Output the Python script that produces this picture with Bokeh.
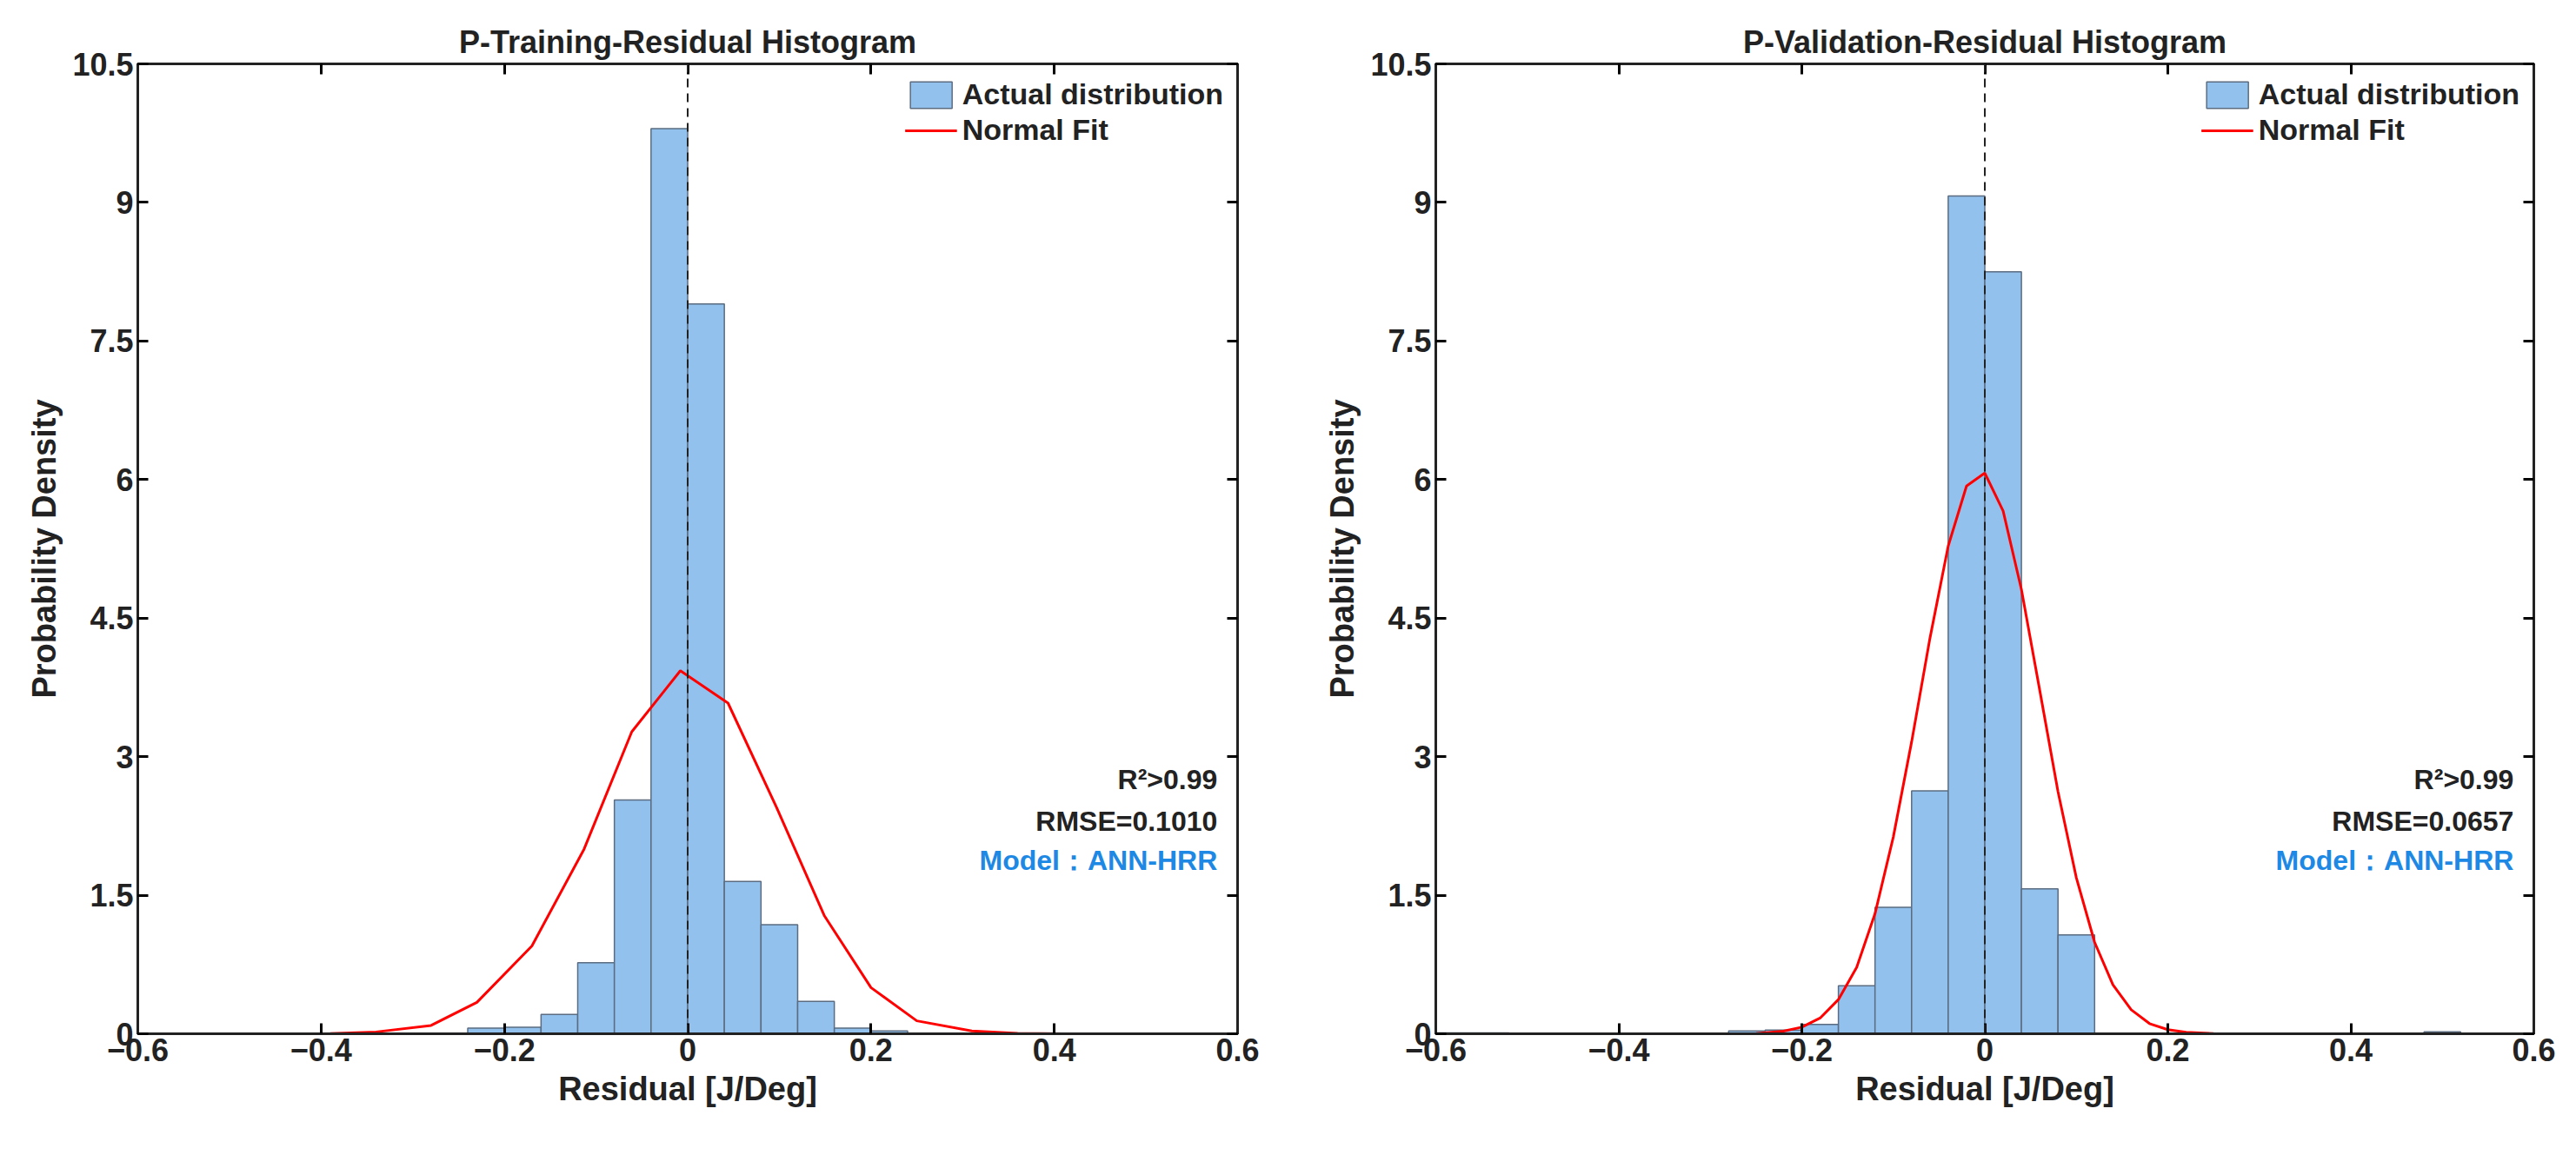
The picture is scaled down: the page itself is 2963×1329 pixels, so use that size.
from bokeh.plotting import figure
from bokeh.layouts import row
from bokeh.models import LinearAxis, FixedTicker, Span, Legend, LegendItem, Label
from bokeh.embed import file_html
from bokeh.resources import INLINE

# ---- data ----
bin_edges = [-0.24, -0.20, -0.16, -0.12, -0.08, -0.04, 0.0, 0.04, 0.08, 0.12, 0.16, 0.20, 0.24]
train_density = [0.06, 0.07, 0.21, 0.77, 2.53, 9.80, 7.90, 1.65, 1.18, 0.35, 0.06, 0.03]
train_fit_x = [-0.44, -0.39, -0.34, -0.28, -0.23, -0.17, -0.113, -0.061, -0.008, 0.044, 0.097, 0.149, 0.20, 0.25, 0.31, 0.36, 0.41]
train_fit_y = [0.0, 0.003, 0.02, 0.09, 0.34, 0.95, 2.0, 3.27, 3.93, 3.58, 2.45, 1.28, 0.50, 0.14, 0.03, 0.005, 0.0]

val_edges = [-0.60, -0.52, -0.28, -0.24, -0.20, -0.16, -0.12, -0.08, -0.04, 0.0, 0.04, 0.08, 0.12, 0.48, 0.52]
val_density = [0.01, 0.0, 0.03, 0.04, 0.10, 0.52, 1.37, 2.63, 9.07, 8.25, 1.57, 1.07, 0.0, 0.02]
val_fit_x = [-0.60, -0.30, -0.25, -0.22, -0.20, -0.18, -0.16, -0.14, -0.12, -0.10, -0.08, -0.06, -0.04, -0.02,
             0.0, 0.02, 0.04, 0.06, 0.08, 0.10, 0.12, 0.14, 0.16, 0.18, 0.20, 0.22, 0.25, 0.30, 0.60]
val_fit_y = [0.0, 0.0003, 0.003, 0.028, 0.072, 0.17, 0.37, 0.72, 1.30, 2.13, 3.16, 4.28, 5.28, 5.93,
             6.07, 5.66, 4.81, 3.72, 2.62, 1.69, 0.99, 0.53, 0.26, 0.11, 0.045, 0.017, 0.003, 0.0, 0.0]

x_ticks = [-0.6, -0.4, -0.2, 0, 0.2, 0.4, 0.6]
y_ticks = [0, 1.5, 3, 4.5, 6, 7.5, 9, 10.5]
x_labels = {-0.6: "\u22120.6", -0.4: "\u22120.4", -0.2: "\u22120.2", 0: "0", 0.2: "0.2", 0.4: "0.4", 0.6: "0.6"}
y_labels = {0: "0", 1.5: "1.5", 3: "3", 4.5: "4.5", 6: "6", 7.5: "7.5", 9: "9", 10.5: "10.5"}

FONT = "Liberation Sans"
BAR = "#93c1ee"
BAR_LINE = "#5b6c80"


def make(title, edges, dens, fx, fy, rmse, width, bl, br):
    p = figure(width=width, height=1306, x_range=(-0.6, 0.6), y_range=(0, 10.5),
               output_backend="svg", toolbar_location=None,
               min_border_left=bl, min_border_right=br, min_border_top=73, min_border_bottom=117)
    p.title.text = title
    p.title.align = "center"
    p.title.text_font = FONT
    p.title.text_font_size = "36px"
    p.title.text_font_style = "bold"
    p.title.text_color = "#222222"
    p.grid.visible = False
    p.outline_line_color = "#222222"
    p.outline_line_width = 3
    lefts = [e for e, d in zip(edges[:-1], dens) if d > 0]
    rights = [e for e, d in zip(edges[1:], dens) if d > 0]
    tops = [d for d in dens if d > 0]
    r_bar = p.quad(left=lefts, right=rights, bottom=0, top=tops, fill_color=BAR,
                   line_color=BAR_LINE, line_width=1.5)
    p.add_layout(Span(location=0, dimension="height", line_color="#222222",
                      line_dash="10 7", line_width=2))
    r_line = p.line(fx, fy, line_color="#ff0000", line_width=3)

    for ax in (p.xaxis[0], p.yaxis[0]):
        ax.major_label_text_font = FONT
        ax.major_label_text_font_size = "36px"
        ax.major_label_text_font_style = "bold"
        ax.major_label_text_color = "#222222"
        ax.axis_label_text_font = FONT
        ax.axis_label_text_font_size = "38px"
        ax.axis_label_text_font_style = "bold"
        ax.axis_label_text_color = "#222222"
        ax.axis_line_width = 3
        ax.axis_line_color = "#222222"
        ax.major_tick_in = 12
        ax.major_tick_out = 0
        ax.major_tick_line_width = 3
        ax.minor_tick_line_color = None
        ax.axis_label_standoff = 8
    p.xaxis[0].ticker = FixedTicker(ticks=x_ticks)
    p.xaxis[0].major_label_overrides = x_labels
    p.yaxis[0].ticker = FixedTicker(ticks=y_ticks)
    p.yaxis[0].major_label_overrides = y_labels
    p.xaxis[0].axis_label = "Residual [J/Deg]"
    p.yaxis[0].axis_label = "Probability Density"

    top = LinearAxis(ticker=FixedTicker(ticks=x_ticks),
                     major_label_overrides={t: "" for t in x_ticks})
    right = LinearAxis(ticker=FixedTicker(ticks=y_ticks),
                       major_label_overrides={t: "" for t in y_ticks})
    for ax in (top, right):
        ax.major_tick_in = 12
        ax.major_tick_out = 0
        ax.major_tick_line_width = 3
        ax.axis_line_width = 3
        ax.axis_line_color = "#222222"
        ax.minor_tick_line_color = None
        ax.major_label_standoff = 0
    p.add_layout(top, "above")
    p.add_layout(right, "right")

    legend = Legend(items=[LegendItem(label="Actual distribution", renderers=[r_bar]),
                           LegendItem(label="Normal Fit", renderers=[r_line])],
                    location="top_right", border_line_color=None, background_fill_alpha=0,
                    label_text_font=FONT, label_text_font_size="34px", label_text_font_style="bold",
                    label_text_color="#222222", glyph_width=60, glyph_height=38,
                    spacing=2, padding=4, margin=16, label_standoff=6)
    p.add_layout(legend)

    for txt, y, col in (("R\u00b2>0.99", 2.75, "#222222"), ("RMSE=" + rmse, 2.3, "#222222"),
                        ("Model\uff1aANN-HRR", 1.88, "#1e88e5")):
        p.add_layout(Label(x=0.578, y=y, text=txt, text_align="right", text_baseline="middle",
                           text_font=FONT, text_font_size="32px", text_font_style="bold",
                           text_color=col))
    return p


p1 = make("P-Training-Residual Histogram", bin_edges, train_density, train_fit_x, train_fit_y,
          "0.1010", 1470, 158, 47)
p2 = make("P-Validation-Residual Histogram", val_edges, val_density, val_fit_x, val_fit_y,
          "0.0657", 1477, 181, 33)

layout = row(p1, p2)
open("out.html", "w").write(file_html(layout, INLINE))
